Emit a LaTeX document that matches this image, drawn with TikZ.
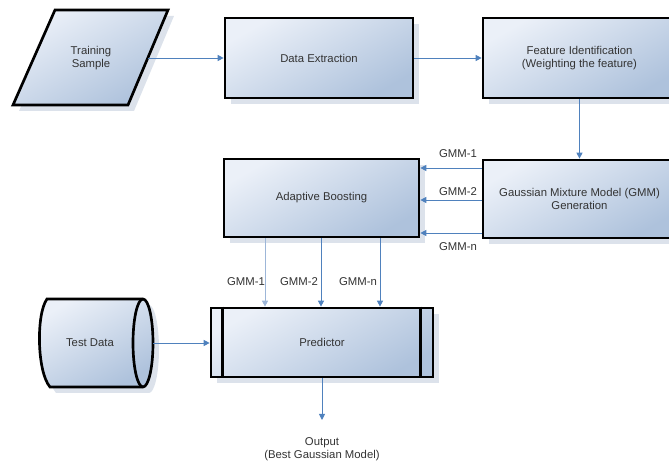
\documentclass[tikz,border=0pt]{standalone}
\usepackage{fontspec}
\setmainfont{Liberation Sans}
\usetikzlibrary{arrows.meta,shadows}
\definecolor{arr}{HTML}{4F81BD}
\definecolor{arrlt}{HTML}{9DB6D8}
\definecolor{boxlt}{HTML}{EBF0F8}
\definecolor{boxdk}{HTML}{AEC2DC}
\definecolor{shd}{HTML}{DCE2EB}
\definecolor{txt}{HTML}{333333}
\tikzset{
  lbl/.style={text=txt, font=\fontsize{8.5}{10}\selectfont, align=center, inner sep=0pt},
  shadefill/.style={top color=boxlt, bottom color=boxdk, shading angle=30},
  box/.style={draw=black, line width=2pt, shadefill, lbl,
    drop shadow={shadow xshift=4.5pt, shadow yshift=-4.5pt, fill=shd, opacity=1}},
  conn/.style={draw=arr, line width=0.7pt, -{Triangle[length=4.5pt,width=4.5pt]}},
  connlt/.style={conn, draw=arrlt},
}
\begin{document}
\begin{tikzpicture}[x=0.75pt,y=-0.75pt]
\path[use as bounding box] (0,0) rectangle (669,466);
\clip (0,0) rectangle (669,466);

% Training sample (parallelogram)
\fill[shd] (61,16) -- (174,16) -- (134,111) -- (19,111) -- cycle;
\draw[black, line width=2pt, shadefill] (55,10) -- (168,10) -- (128,105) -- (13,105) -- cycle;
\node[lbl] (ts) at (91,58) {Training\\Sample};
\coordinate (tsE) at (148,58);

% boxes
\node[box, minimum width=141pt, minimum height=60pt] (de) at (319,58) {Data Extraction};
\node[box, minimum width=144.75pt, minimum height=60pt] (fi) at (579.5,58) {Feature Identification\\(Weighting the feature)};
\node[box, minimum width=144.75pt, minimum height=58.5pt] (gmm) at (579.5,199) {Gaussian Mixture Model (GMM)\\Generation};
\node[box, minimum width=146.25pt, minimum height=58.5pt] (ab) at (321.5,198) {Adaptive Boosting};
\node[box, minimum width=166.5pt, minimum height=51.75pt] (pr) at (322,342.5) {Predictor};
\draw[line width=2pt] ([xshift=9.75pt]pr.north west) -- ([xshift=9.75pt]pr.south west);
\draw[line width=2pt] ([xshift=-10.5pt]pr.north east) -- ([xshift=-10.5pt]pr.south east);

% Test data (cylinder)
\begin{scope}[shift={(6,6)}]
\fill[shd] (47,299) -- (143,299) arc[start angle=-90, end angle=90, x radius=10, y radius=44]
  -- (50,387) .. controls (37,372) and (36,314) .. (47,299) -- cycle;
\end{scope}
\draw[black, line width=2pt, shadefill] (47,299) -- (143,299) arc[start angle=-90, end angle=90, x radius=10, y radius=44]
  -- (50,387) .. controls (37,372) and (36,314) .. (47,299) -- cycle;
\draw[black, line width=2pt] (143,299) arc[start angle=-90, end angle=-270, x radius=10, y radius=44];
\node[lbl] (td) at (90,343) {Test Data};
\coordinate (tdE) at (153,343);

% connectors
\draw[conn] (tsE) -- (de.west |- tsE);
\draw[conn] (de.east) -- (fi.west);
\draw[conn] (fi.south) -- (gmm.north);
\draw[conn] (gmm.west |- {(0,168)}) -- (ab.east |- {(0,168)});
\draw[conn] (gmm.west |- {(0,200)}) -- (ab.east |- {(0,200)});
\draw[conn] (gmm.west |- {(0,233)}) -- (ab.east |- {(0,233)});
\draw[connlt] (ab.south -| {(265,0)}) -- (pr.north -| {(265,0)});
\draw[conn] (ab.south -| {(321,0)}) -- (pr.north -| {(321,0)});
\draw[conn] (ab.south -| {(380,0)}) -- (pr.north -| {(380,0)});
\draw[conn] (tdE) -- (pr.west |- tdE);
\coordinate (outE) at (322,420);
\draw[conn] (pr.south -| outE) -- (outE);

% labels
\node[lbl] (l1) at (458,154) {GMM-1};
\node[lbl] (l2) at (458,192) {GMM-2};
\node[lbl] (l3) at (458,247) {GMM-n};
\node[lbl] (m1) at (246,282) {GMM-1};
\node[lbl] (m2) at (299,282) {GMM-2};
\node[lbl] (m3) at (358,282) {GMM-n};
\node[lbl] (out) at (322,449) {Output\\(Best Gaussian Model)};
\end{tikzpicture}
\end{document}
